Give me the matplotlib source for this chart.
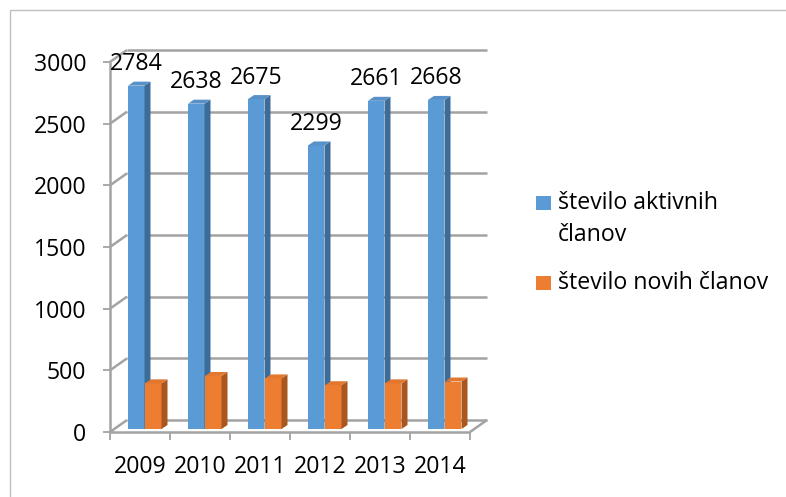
"""
Active and new members per year, drawn as a pseudo-3D column chart.
"""
import matplotlib
matplotlib.use("Agg")
import matplotlib.pyplot as plt
from matplotlib.patches import Polygon, Rectangle

YEARS = ["2009", "2010", "2011", "2012", "2013", "2014"]
ACTIVE = [2784, 2638, 2675, 2299, 2661, 2668]
NEW = [370, 430, 410, 355, 370, 385]
SERIES = ["število aktivnih\nčlanov", "število novih članov"]
Y_TICKS = [0, 500, 1000, 1500, 2000, 2500, 3000]

FONT = "Open Sans"
FS = 16.7
GRID = "#A3A3A3"
COLORS = [("#5B9BD5", "#3E6C98", "#5890C8"), ("#ED7D31", "#A9561F", "#E2772F")]

# axis frame in pixels (front plane)
W, H = 786, 497
X0, X1, Y0, Y1 = 110, 470, 432, 62
PX_X = len(YEARS) / (X1 - X0)
PX_Y = Y_TICKS[-1] / (Y0 - Y1)

WALL_DX, WALL_DY = 17 * PX_X, 12 * PX_Y
BAR_DX, BAR_DY = 6 * PX_X, 4 * PX_Y
BAR_BASE = 3 * PX_Y
BAR_W = 16.5 * PX_X
BAR_OFF = [18 * PX_X, 35 * PX_X]

plt.rcParams["font.family"] = [FONT, "DejaVu Sans"]

fig = plt.figure(figsize=(W / 100, H / 100), dpi=100)
ax = fig.add_axes([X0 / W, 1 - Y0 / H, (X1 - X0) / W, (Y0 - Y1) / H])
ax.set_xlim(0, len(YEARS))
ax.set_ylim(0, Y_TICKS[-1])
for s in ax.spines.values():
    s.set_visible(False)

# walls, floor and gridlines
line_kw = dict(color=GRID, lw=1.8, clip_on=False, zorder=1, solid_capstyle="butt")
n = len(YEARS)
for t in Y_TICKS:
    ax.plot([0, WALL_DX], [t, t + WALL_DY], **line_kw)
    ax.plot([WALL_DX, n + WALL_DX], [t + WALL_DY, t + WALL_DY], **line_kw)
ax.plot([0, 0], [0, Y_TICKS[-1]], **line_kw)
ax.plot([0, n], [0, 0], **line_kw)
ax.plot([n, n + WALL_DX], [0, WALL_DY], **line_kw)


def bar3d(x, h, colors, z):
    front, side, top = colors
    b = BAR_BASE
    ax.bar(x, h, BAR_W, bottom=b, align="edge", color=front, zorder=z, lw=0)
    ax.add_patch(Polygon(
        [(x + BAR_W, b), (x + BAR_W, b + h), (x + BAR_W + BAR_DX, b + h + BAR_DY),
         (x + BAR_W + BAR_DX, b + BAR_DY)], closed=True, color=side, lw=0, zorder=z))
    ax.add_patch(Polygon(
        [(x, b + h), (x + BAR_DX, b + h + BAR_DY), (x + BAR_W + BAR_DX, b + h + BAR_DY),
         (x + BAR_W, b + h)], closed=True, color=top, lw=0, zorder=z))


for i, (a, nw) in enumerate(zip(ACTIVE, NEW)):
    bar3d(i + BAR_OFF[0], a, COLORS[0], 2 + 2 * i)
    bar3d(i + BAR_OFF[1], nw, COLORS[1], 3 + 2 * i)
    ax.annotate(str(a), (i + BAR_OFF[0] + BAR_W / 2, BAR_BASE + a),
                xytext=(0, 15.5), textcoords="offset points", ha="center",
                va="center", fontsize=FS, zorder=20, annotation_clip=False)

# ticks
ax.set_yticks(Y_TICKS)
ax.set_yticklabels([str(t) for t in Y_TICKS])
ax.tick_params(axis="y", length=5, width=1.3, color=GRID, pad=12, labelsize=FS)
ax.set_xticks([i + 0.5 for i in range(n)])
ax.set_xticklabels(YEARS)
ax.set_xticks(range(n + 1), minor=True)
ax.tick_params(axis="x", which="major", length=0, pad=16.5, labelsize=FS)
ax.tick_params(axis="x", which="minor", length=6, width=1.3, color=GRID)

# outer chart border
fig.add_artist(Rectangle((10 / W, -0.2), 1.2, 1.2 - 10 / H, transform=fig.transFigure,
                         fill=False, edgecolor="#BFBFBF", lw=1))

# legend
LEG_Y = [203, 283]
for (c, _, _), label, y in zip(COLORS, SERIES, LEG_Y):
    fig.add_artist(Rectangle((536 / W, 1 - (y + 7) / H), 15 / W, 14 / H,
                             transform=fig.transFigure, color=c, lw=0))
    for j, line in enumerate(label.split("\n")):
        fig.text(558 / W, 1 - (y + 32 * j) / H, line, va="center", ha="left",
                 fontsize=FS)

fig.savefig("out.png", dpi=100)
